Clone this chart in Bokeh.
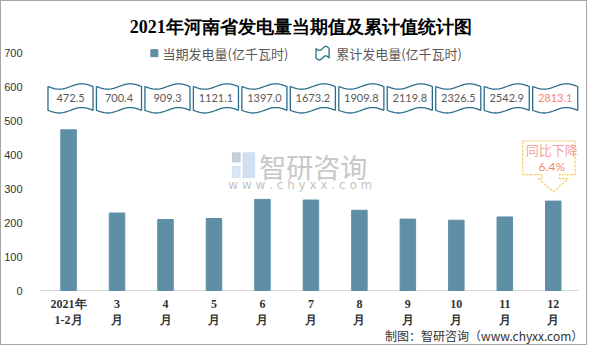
import math
from bokeh.plotting import figure
from bokeh.models import Range1d, FixedTicker
from bokeh.embed import file_html
from bokeh.resources import INLINE
from bokeh.core.properties import value

# ---- data ----
months = ["2021年\n1-2月", "3\n月", "4\n月", "5\n月", "6\n月", "7\n月",
          "8\n月", "9\n月", "10\n月", "11\n月", "12\n月"]
current = [472.5, 227.9, 208.9, 211.8, 268.0, 266.0, 236.0, 210.0, 206.7, 216.4, 263.0]
cumulative = [472.5, 700.4, 909.3, 1121.1, 1397.0, 1673.2, 1909.8, 2119.8, 2326.5, 2542.9, 2813.1]
y_ticks = [0, 100, 200, 300, 400, 500, 600, 700]
series_names = ["当期发电量(亿千瓦时)", "累计发电量(亿千瓦时)"]
title_text = "2021年河南省发电量当期值及累计值统计图"
note_text = ["同比下降", "6.4%"]
credit_text = "制图：智研咨询（www.chyxx.com）"

BAR = "#5e8fa7"
FLAG = "#2a6d8c"
TXT = "#595959"
CJK = "Noto Sans CJK SC"

idx = list(range(len(months)))

p = figure(width=587, height=345, output_backend="svg", toolbar_location=None, title=None,
           x_range=Range1d(-0.6, 10.727), y_range=Range1d(-164.7, 850.0),
           min_border_left=32, min_border_right=0, min_border_top=0, min_border_bottom=0)
p.styles = {"border": "1px solid #a6a6a6"}
p.outline_line_color = None
p.grid.visible = False
p.background_fill_color = "white"
p.border_fill_color = "white"

# x axis pinned at y = 0 inside the frame
p.xaxis.fixed_location = 0
p.xaxis.ticker = FixedTicker(ticks=idx)
p.xaxis.major_label_overrides = {i: m for i, m in zip(idx, months)}
p.xaxis.axis_line_color = None
p.xaxis.major_tick_line_color = None
p.xaxis.minor_tick_line_color = None
p.xaxis.major_label_text_font = "Liberation Serif"
p.xaxis.major_label_text_font_style = "bold"
p.xaxis.major_label_text_font_size = "12px"
p.xaxis.major_label_text_color = "#333333"
p.xaxis.major_label_standoff = 0
p.segment(x0=[-0.6], x1=[10.52], y0=[0], y1=[0], line_color="#d9d9d9", line_width=1)

p.yaxis.ticker = FixedTicker(ticks=y_ticks)
p.yaxis.axis_line_color = None
p.yaxis.major_tick_line_color = None
p.yaxis.minor_tick_line_color = None
p.yaxis.major_label_text_font = "Liberation Sans"
p.yaxis.major_label_text_font_size = "11px"
p.yaxis.major_label_text_color = "#333333"
p.yaxis.major_label_standoff = 11

# bars
p.vbar(x=idx, top=current, width=0.32, color=BAR)

# wavy flags with cumulative values
def wave(xc, w, top, bot, amp, n=24):
    xs, ys = [], []
    for k in range(n + 1):
        t = k / n
        xs.append(xc - w / 2 + w * t)
        ys.append(top - amp * math.sin(2 * math.pi * t))
    for k in range(n, -1, -1):
        t = k / n
        xs.append(xc - w / 2 + w * t)
        ys.append(bot - amp * math.sin(2 * math.pi * t))
    return xs, ys

fx, fy = [], []
for i in idx:
    a, b = wave(i + 0.04, 0.93, 600, 530, 8)
    fx.append(a)
    fy.append(b)
p.patches(fx, fy, fill_color="white", line_color=FLAG, line_width=1.3)
colors = [TXT] * (len(idx) - 1) + ["#ef8571"]
p.text(x=[i + 0.04 for i in idx], y=[565] * len(idx),
       text=[f"{v:.1f}" for v in cumulative], text_color=colors,
       text_font=value("Lato"), text_font_size="11px",
       text_align="center", text_baseline="middle")

# title and legend (inside the extended frame above the 700 tick)
p.text(x=[4.79], y=[776], text=[title_text], text_color="#000000",
       text_font=value("Liberation Serif"), text_font_style="bold", text_font_size="18px",
       text_align="center", text_baseline="middle")
p.scatter(x=[1.77], y=[698], marker="square", size=7, color=BAR)
lx, ly = wave(5.24, 0.27, 712, 684, 6)
p.patch(lx, ly, fill_color="white", line_color=FLAG, line_width=1.3)
p.text(x=[1.94, 5.52], y=[698, 698], text=series_names, text_color=TXT,
       text_font=value(CJK), text_font_size="13px", text_baseline="middle")

# callout on last bar
cx = [9.37, 10.45, 10.45, 10.13, 10.13, 10.31, 10.0, 9.69, 9.77, 9.77, 9.37]
cy = [440, 440, 341, 341, 329, 329, 290, 329, 329, 341, 341]
p.patch(cx, cy, fill_color="white", line_color="#f6d27e", line_width=1.3, line_dash="3 1")
p.text(x=[9.97], y=[414], text=[note_text[0]], text_color="#f3a39c",
       text_font=value(CJK), text_font_size="13px", text_align="center", text_baseline="middle")
p.text(x=[9.97], y=[366], text=[note_text[1]], text_color="#ef8a74",
       text_font=value("Lato"), text_font_size="12px", text_align="center", text_baseline="middle")

# watermark
p.quad(left=[3.38, 3.38, 3.60], right=[3.54, 3.54, 3.84], top=[405, 365, 405],
       bottom=[378, 332, 332], color=["#b9c6d2", "#cfe0f0", "#c4d8ec"], alpha=0.8)
p.text(x=[5.05], y=[366], text=["智研咨询"], text_color="#c8c8c8",
       text_font=value(CJK), text_font_size="27px", text_align="center", text_baseline="middle")
p.text(x=[4.78], y=[310], text=["w w w . c h y x x . c o m"], text_color="#c4c4c4",
       text_font=value("DejaVu Sans"), text_font_size="12px", text_align="center",
       text_baseline="middle")

# credit (bottom right)
p.text(x=[10.62], y=[-133], text=[credit_text], text_color="#333333",
       text_font=value(CJK), text_font_size="12px", text_align="right", text_baseline="middle")

open("out.html", "w").write(file_html(p, INLINE))
